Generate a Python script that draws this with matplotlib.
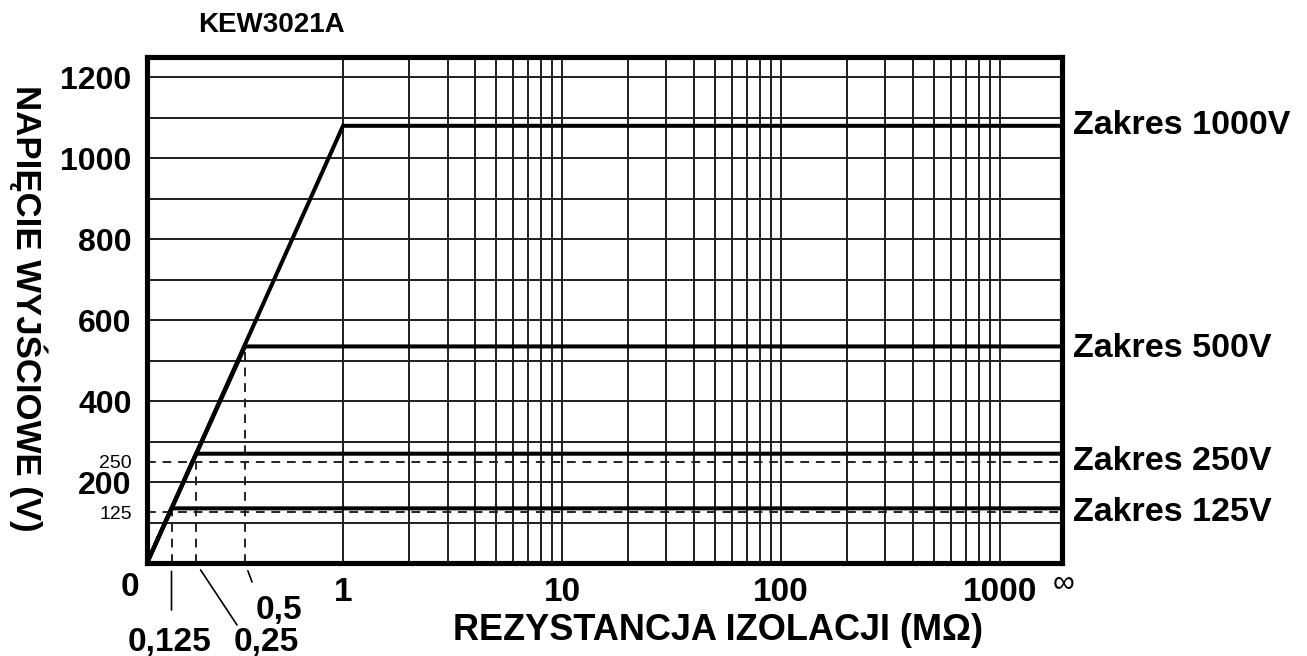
import numpy as np
import matplotlib
matplotlib.use("Agg")
import matplotlib.pyplot as plt

plt.rcParams['font.family'] = ['Liberation Sans', 'DejaVu Sans']

# ---------------- data ----------------
title = "KEW3021A"
range_names = ["Zakres 1000V", "Zakres 500V", "Zakres 250V", "Zakres 125V"]
knee_r = [1.0, 0.5, 0.25, 0.125]          # MΩ where the range reaches its plateau
level_v = [1080, 535, 270, 135]           # plateau output voltage (V)
label_v = [1080, 530, 250, 125]           # where the range labels sit (V)
nominal_v = [250, 125]                    # dashed reference levels (V)
dash_r = [0.125, 0.25, 0.5]               # dashed reference resistances (MΩ)
dash_top_v = [125, 250, 535]
dash_r_labels = ["0,125", "0,25", "0,5"]
x_inf = 1920                              # position used for "∞"
grid_x = [1, 2, 3, 4, 5, 6, 7, 8, 9,
          10, 20, 30, 40, 50, 60, 70, 80, 90,
          100, 200, 300, 400, 500, 600, 700, 800, 900, 1000]
grid_y = [100, 200, 300, 400, 500, 600, 700, 800, 900, 1000, 1100, 1200]
y_big_ticks = [200, 400, 600, 800, 1000, 1200]
y_small_ticks = [125, 250]
x_ticks = [1, 10, 100, 1000]
x_tick_labels = ["1", "10", "100", "1000"]

# ------------- mixed linear / log scale -------------
K = 1.117  # width of one decade relative to the 0..1 linear segment


def fwd(x):
    x = np.asarray(x, dtype=float)
    safe = np.where(x > 1, x, 1.0)
    return np.where(x <= 1, x, 1 + K * np.log10(safe))


def inv(u):
    u = np.asarray(u, dtype=float)
    return np.where(u <= 1, u, 10 ** ((u - 1) / K))


W, H = 1307, 656
fig = plt.figure(figsize=(W / 100, H / 100), dpi=100)
ax = fig.add_axes([147 / W, 1 - 563 / H, 915 / W, 506 / H])
ax.set_xscale('function', functions=(fwd, inv))
ax.set_xlim(0, x_inf)
ax.set_ylim(0, 1250)

grid_col = "#1e1e1e"
for gx in grid_x:
    ax.axvline(gx, color=grid_col, lw=1.4, zorder=1)
for gy in grid_y:
    ax.axhline(gy, color=grid_col, lw=1.4, zorder=1)

# dashed reference lines
for v in nominal_v:
    ax.axhline(v, color="#222222", lw=1.4, dashes=(4.5, 3.5), zorder=2)
for r, top in zip(dash_r, dash_top_v):
    ax.plot([r, r], [0, top], color="#222222", lw=1.4, dashes=(4.5, 3.5), zorder=2)

# range curves
for kr, lv in zip(knee_r, level_v):
    ax.plot([0, kr, x_inf], [0, lv, lv], color="black", lw=2.9,
            solid_joinstyle='miter', zorder=3)

# range labels
ytr = ax.get_yaxis_transform()
for name, v in zip(range_names, label_v):
    ax.text(1.012, v, name, transform=ytr, ha='left', va='center',
            fontsize=24.5, fontweight='bold')

# frame
for s in ax.spines.values():
    s.set_linewidth(3.7)
    s.set_color("black")
    s.set_zorder(5)

# ticks
ax.tick_params(length=0)
ax.set_xticks(x_ticks)
ax.set_xticklabels(x_tick_labels, fontsize=24, fontweight='bold')
ax.xaxis.set_minor_locator(matplotlib.ticker.NullLocator())
ax.tick_params(axis='x', pad=10)

yt = y_small_ticks + y_big_ticks
ax.set_yticks(yt)
ax.set_yticklabels([str(v) for v in yt])
ax.yaxis.set_minor_locator(matplotlib.ticker.NullLocator())
ax.tick_params(axis='y', pad=11)
for lab, v in zip(ax.get_yticklabels(), yt):
    if v in y_small_ticks:
        lab.set_fontsize(14)
        lab.set_fontweight('normal')
    else:
        lab.set_fontsize(23)
        lab.set_fontweight('bold')

# "0" and "∞" labels on the x axis
ax.annotate("0", xy=(0, 0), xycoords=('data', 'axes fraction'),
            xytext=(-17, -25), textcoords='offset pixels',
            ha='center', va='center', fontsize=24, fontweight='bold')
ax.annotate("∞", xy=(x_inf, 0), xycoords=('data', 'axes fraction'),
            xytext=(2, -20), textcoords='offset pixels',
            ha='center', va='center', fontsize=22)

# leaders and labels for the small resistance values
leader_off = {0.125: (0, -47), 0.25: (41, -62), 0.5: (7, -19)}
text_off = {0.125: (-2, -80), 0.25: (70, -80), 0.5: (34, -47)}
for r, lab in zip(dash_r, dash_r_labels):
    ax.annotate("", xy=(r, 0), xycoords=('data', 'axes fraction'),
                xytext=leader_off[r], textcoords='offset pixels',
                arrowprops=dict(arrowstyle='-', lw=1.2, color='black',
                                shrinkA=0, shrinkB=6))
    ax.annotate(lab, xy=(r, 0), xycoords=('data', 'axes fraction'),
                xytext=text_off[r], textcoords='offset pixels',
                ha='center', va='center', fontsize=24, fontweight='bold',
                annotation_clip=False)

# titles
fig.text(271 / W, 1 - 25 / H, title, ha='center', va='center',
         fontsize=20, fontweight='bold')
fig.text(718 / W, 1 - 630 / H, "REZYSTANCJA IZOLACJI (MΩ)", ha='center',
         va='center', fontsize=26, fontweight='bold')
fig.text(28 / W, 1 - 308 / H, "NAPIĘCIE WYJŚCIOWE (V)", ha='center',
         va='center', rotation=-90, fontsize=25, fontweight='bold')

fig.savefig("out.png", dpi=100)
